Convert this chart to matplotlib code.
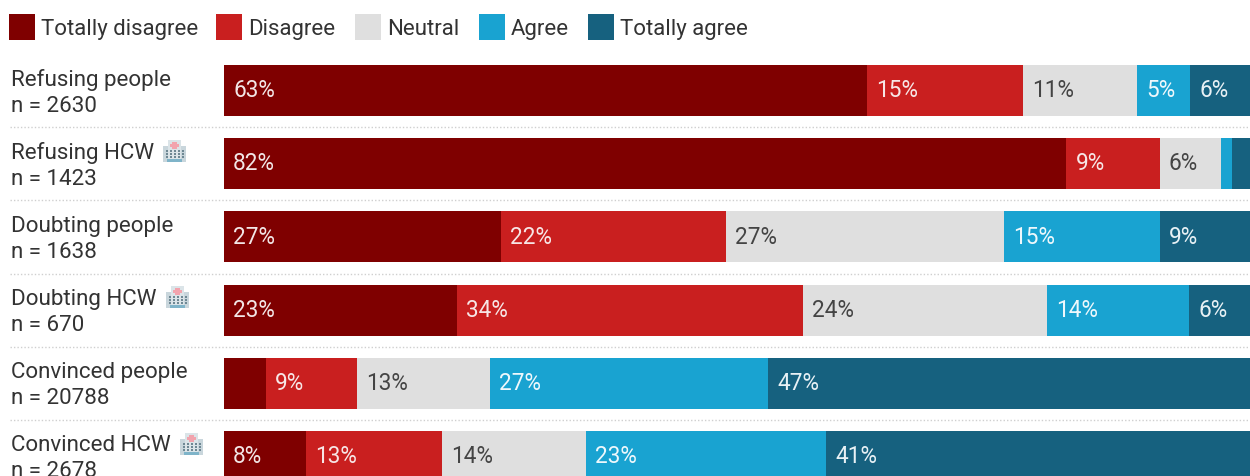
import matplotlib
matplotlib.use('Agg')
from matplotlib import pyplot as plt
from matplotlib.patches import Rectangle

plt.rcParams['font.family'] = ['Roboto', 'DejaVu Sans']

# VALUES (percent of each group)

groups = ['Refusing people', 'Refusing HCW', 'Doubting people',
          'Doubting HCW', 'Convinced people', 'Convinced HCW']
counts = [2630, 1423, 1638, 670, 20788, 2678]
categories = ['Totally disagree', 'Disagree', 'Neutral', 'Agree', 'Totally agree']
totally_disagree = [62.7, 82.1, 27.0, 22.7, 4.1, 8.0]
disagree = [15.2, 9.1, 21.9, 33.7, 8.9, 13.2]
neutral = [11.1, 6.0, 27.1, 23.8, 12.9, 14.1]
agree = [5.2, 1.0, 15.2, 13.9, 27.1, 23.4]
totally_agree = [5.8, 1.8, 8.8, 5.9, 47.1, 41.3]
has_icon = [False, True, False, True, False, True]

series = [totally_disagree, disagree, neutral, agree, totally_agree]
colors = ['#7f0000', '#c91f1f', '#dfdfdf', '#19a3d1', '#16617f']
label_colors = ['#f2e6e6', '#f7e6e6', '#444444', '#eef8fc', '#e8f1f5']
legend_x = [9, 216, 355, 479, 588]
icon_x = [0, 162, 0, 165, 0, 179]

W, H = 1250, 477
row_top = 91.5  # pixel centre of first row
row_step = 73.2

fig = plt.figure(figsize=(W / 100, H / 100), dpi=100, facecolor='white')
ax = fig.add_axes([224 / W, 0, 1026 / W, 1])
ax.set_xlim(0, 100)
ax.set_ylim((H - row_top) / row_step, -row_top / row_step)
ax.axis('off')

# BARS

rows = list(range(len(groups)))
left = [0.0] * len(groups)
for vals, c, lc in zip(series, colors, label_colors):
    ax.barh(rows, vals, left=left, height=51 / row_step, color=c, linewidth=0)
    for r in rows:
        if vals[r] >= 4.5:
            ax.text(left[r] + 0.9, r - 0.01, '%d%%' % round(vals[r]), color=lc,
                    fontsize=16.3, va='center', ha='left')
    left = [a + b for a, b in zip(left, vals)]


def px_rect(x, y, w, h, color, **kw):
    fig.add_artist(Rectangle((x / W, 1 - (y + h) / H), w / W, h / H, color=color,
                             linewidth=0, transform=fig.transFigure, **kw))


def hospital(x, y):
    # no emoji font here, so the little building is drawn by hand
    px_rect(x + 1, y + 7, 23, 16, '#c9d6dc')
    px_rect(x + 6, y + 1, 13, 22, '#dbe4e8')
    px_rect(x + 10, y + 3, 5, 7, '#f2a3ad')
    px_rect(x + 8, y + 5, 9, 3, '#f2a3ad')
    for i in range(5):
        for j in range(3):
            px_rect(x + 4 + i * 4, y + 11 + j * 3, 2, 2, '#6f8894')
    px_rect(x + 5, y + 20, 15, 3, '#7fb4c9')


# ROW LABELS AND SEPARATORS

for r, (g, n) in enumerate(zip(groups, counts)):
    yc = row_top + r * row_step
    fig.text(11 / W, 1 - (yc - 11.5) / H, g, fontsize=16.1, color='#333333',
             va='center', ha='left')
    fig.text(11 / W, 1 - (yc + 14.5) / H, 'n = %d' % n, fontsize=16.1, color='#333333',
             va='center', ha='left')
    if has_icon[r]:
        hospital(icon_x[r], yc - 25)
    if r > 0:
        fig.add_artist(plt.Line2D([10 / W, 1], [1 - (yc - 36.5) / H] * 2, color='#cfcfcf',
                                  lw=1, ls=(0, (1, 1.5)), transform=fig.transFigure))

# LEGEND

for x, cat, c in zip(legend_x, categories, colors):
    px_rect(x, 15, 26, 26, c)
    fig.text((x + 32) / W, 1 - 29.5 / H, cat, fontsize=16, color='#333333',
             va='center', ha='left')

plt.savefig('out.png', dpi=100)
